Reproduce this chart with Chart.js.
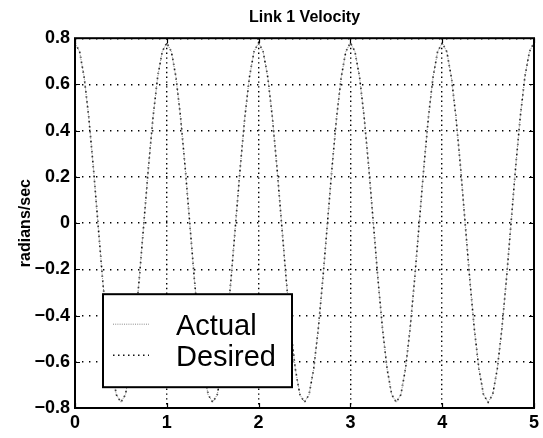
<!DOCTYPE html>
<html>
<head>
<meta charset="utf-8">
<script src="https://cdn.jsdelivr.net/npm/chart.js@4.4.1/dist/chart.umd.min.js"></script>
<style>
  html, body { margin: 0; padding: 0; background: #fff; }
  #wrap { width: 543px; height: 438px; }
</style>
</head>
<body>
<div id="wrap"><canvas id="myChart" width="543" height="438"></canvas></div>
<script>
const FONT = "'Liberation Sans', Arial, Helvetica, sans-serif";

const chartTitle = 'Link 1 Velocity';
const yTitle = 'radians/sec';
const seriesNames = ['Actual', 'Desired'];

// time in seconds
const times = [
  0, 0.05, 0.1, 0.15, 0.2, 0.25, 0.3, 0.35, 0.4, 0.45,
  0.5, 0.55, 0.6, 0.65, 0.7, 0.75, 0.8, 0.85, 0.9, 0.95,
  1, 1.05, 1.1, 1.15, 1.2, 1.25, 1.3, 1.35, 1.4, 1.45,
  1.5, 1.55, 1.6, 1.65, 1.7, 1.75, 1.8, 1.85, 1.9, 1.95,
  2, 2.05, 2.1, 2.15, 2.2, 2.25, 2.3, 2.35, 2.4, 2.45,
  2.5, 2.55, 2.6, 2.65, 2.7, 2.75, 2.8, 2.85, 2.9, 2.95,
  3, 3.05, 3.1, 3.15, 3.2, 3.25, 3.3, 3.35, 3.4, 3.45,
  3.5, 3.55, 3.6, 3.65, 3.7, 3.75, 3.8, 3.85, 3.9, 3.95,
  4, 4.05, 4.1, 4.15, 4.2, 4.25, 4.3, 4.35, 4.4, 4.45,
  4.5, 4.55, 4.6, 4.65, 4.7, 4.75, 4.8, 4.85, 4.9, 4.95,
  5
];

const desired = [
  0.78, 0.742, 0.631, 0.458, 0.241, 0, -0.241, -0.458, -0.631, -0.742,
  -0.775, -0.742, -0.631, -0.458, -0.241, 0, 0.241, 0.458, 0.631, 0.742,
  0.78, 0.742, 0.631, 0.458, 0.241, 0, -0.241, -0.458, -0.631, -0.742,
  -0.775, -0.742, -0.631, -0.458, -0.241, 0, 0.241, 0.458, 0.631, 0.742,
  0.78, 0.742, 0.631, 0.458, 0.241, 0, -0.241, -0.458, -0.631, -0.742,
  -0.775, -0.742, -0.631, -0.458, -0.241, 0, 0.241, 0.458, 0.631, 0.742,
  0.78, 0.742, 0.631, 0.458, 0.241, 0, -0.241, -0.458, -0.631, -0.742,
  -0.775, -0.742, -0.631, -0.458, -0.241, 0, 0.241, 0.458, 0.631, 0.742,
  0.78, 0.742, 0.631, 0.458, 0.241, 0, -0.241, -0.458, -0.631, -0.742,
  -0.775, -0.742, -0.631, -0.458, -0.241, 0, 0.241, 0.458, 0.631, 0.742,
  0.78
];

// actual tracks the desired curve almost exactly
const actual = [
  0.78, 0.742, 0.631, 0.458, 0.241, 0, -0.241, -0.458, -0.631, -0.742,
  -0.775, -0.742, -0.631, -0.458, -0.241, 0, 0.241, 0.458, 0.631, 0.742,
  0.78, 0.742, 0.631, 0.458, 0.241, 0, -0.241, -0.458, -0.631, -0.742,
  -0.775, -0.742, -0.631, -0.458, -0.241, 0, 0.241, 0.458, 0.631, 0.742,
  0.78, 0.742, 0.631, 0.458, 0.241, 0, -0.241, -0.458, -0.631, -0.742,
  -0.775, -0.742, -0.631, -0.458, -0.241, 0, 0.241, 0.458, 0.631, 0.742,
  0.78, 0.742, 0.631, 0.458, 0.241, 0, -0.241, -0.458, -0.631, -0.742,
  -0.775, -0.742, -0.631, -0.458, -0.241, 0, 0.241, 0.458, 0.631, 0.742,
  0.78, 0.742, 0.631, 0.458, 0.241, 0, -0.241, -0.458, -0.631, -0.742,
  -0.775, -0.742, -0.631, -0.458, -0.241, 0, 0.241, 0.458, 0.631, 0.742,
  0.78
];

const xTicks = [0, 1, 2, 3, 4, 5];
const yTicks = [-0.8, -0.6, -0.4, -0.2, 0, 0.2, 0.4, 0.6, 0.8];

const toPoints = (ys) => ys.map((y, i) => ({ x: times[i], y }));

function fmtY(v) {
  const r = Math.round(v * 10) / 10;
  if (r === 0) return '0';
  return (r < 0 ? '\u2212' : '') + Math.abs(r).toFixed(1);
}

// matlab style box round the axes, with inward ticks
const framePlugin = {
  id: 'frame',
  afterDraw(chart) {
    const { ctx, chartArea: a, scales } = chart;
    ctx.save();
    ctx.strokeStyle = '#000';
    ctx.lineWidth = 1.2;
    ctx.setLineDash([]);
    ctx.beginPath();
    xTicks.forEach(v => {
      const px = Math.round(scales.x.getPixelForValue(v)) + 0.5;
      ctx.moveTo(px, a.bottom); ctx.lineTo(px, a.bottom - 5);
      ctx.moveTo(px, a.top); ctx.lineTo(px, a.top + 5);
    });
    yTicks.forEach(v => {
      const py = Math.round(scales.y.getPixelForValue(v)) + 0.5;
      ctx.moveTo(a.left, py); ctx.lineTo(a.left + 5, py);
      ctx.moveTo(a.right, py); ctx.lineTo(a.right - 5, py);
    });
    ctx.stroke();
    ctx.lineWidth = 2;
    ctx.strokeRect(a.left, a.top, a.right - a.left, a.bottom - a.top);
    ctx.restore();
  }
};

// boxed legend inside the lower left of the axes
const legendBoxPlugin = {
  id: 'legendBox',
  afterDraw(chart) {
    const { ctx, chartArea: a } = chart;
    const bx = a.left + 28, by = a.top + 256, bw = 189, bh = 93;
    ctx.save();
    ctx.fillStyle = '#fff';
    ctx.fillRect(bx, by, bw, bh);
    ctx.strokeStyle = '#000';
    ctx.lineWidth = 2;
    ctx.setLineDash([]);
    ctx.strokeRect(bx, by, bw, bh);

    const rows = [by + 30, by + 61];
    chart.data.datasets.forEach((ds, i) => {
      ctx.save();
      ctx.strokeStyle = ds.borderColor;
      ctx.lineWidth = ds.borderWidth;
      ctx.setLineDash(ds.borderDash);
      ctx.beginPath();
      ctx.moveTo(bx + 10, rows[i]);
      ctx.lineTo(bx + 46, rows[i]);
      ctx.stroke();
      ctx.restore();
      ctx.fillStyle = '#000';
      ctx.font = '29px ' + FONT;
      ctx.textBaseline = 'alphabetic';
      ctx.textAlign = 'left';
      ctx.fillText(ds.label, bx + 73, rows[i] + 11);
    });
    ctx.restore();
  }
};

const chart = new Chart(document.getElementById('myChart'), {
  type: 'line',
  data: {
    datasets: [
      {
        label: seriesNames[0],
        data: toPoints(actual),
        borderColor: '#8a8a8a',
        borderWidth: 1,
        borderDash: [1, 1.2],
        pointRadius: 0,
        tension: 0,
        fill: false,
      },
      {
        label: seriesNames[1],
        data: toPoints(desired),
        borderColor: '#111',
        borderWidth: 1.6,
        borderDash: [1.5, 3.5],
        pointRadius: 0,
        tension: 0,
        fill: false,
      },
    ]
  },
  options: {
    responsive: false,
    animation: false,
    devicePixelRatio: 1,
    layout: { padding: { top: 0, right: 0, bottom: 0, left: 0 } },
    plugins: {
      legend: { display: false },
      tooltip: { enabled: false },
      title: {
        display: true,
        text: chartTitle,
        fullSize: false,
        color: '#000',
        font: { family: FONT, size: 16, weight: 'bold' },
        padding: { top: 8, bottom: 11 },
      },
    },
    scales: {
      x: {
        type: 'linear',
        min: 0,
        max: 5,
        afterBuildTicks: (s) => { s.ticks = xTicks.map(v => ({ value: v })); },
        afterFit: (s) => { s.height = 30; },
        ticks: {
          color: '#000',
          font: { family: FONT, size: 18, weight: 'bold' },
          padding: 4,
          maxRotation: 0,
        },
        grid: { color: '#000', lineWidth: 1.4, drawTicks: false },
        border: { display: false, dash: [1.4, 3.4] },
      },
      y: {
        min: -0.8,
        max: 0.8,
        afterBuildTicks: (s) => { s.ticks = yTicks.map(v => ({ value: v })); },
        afterFit: (s) => { s.width = 75; },
        ticks: {
          color: '#000',
          font: { family: FONT, size: 18, weight: 'bold' },
          padding: 5,
          callback: fmtY,
        },
        grid: { color: '#000', lineWidth: 1.4, drawTicks: false },
        border: { display: false, dash: [1.4, 5.6] },
        title: {
          display: true,
          text: yTitle,
          color: '#000',
          font: { family: FONT, size: 16, weight: 'bold' },
          padding: { top: 16, bottom: 0 },
        },
      }
    }
  },
  plugins: [framePlugin, legendBoxPlugin]
});
</script>
</body>
</html>
